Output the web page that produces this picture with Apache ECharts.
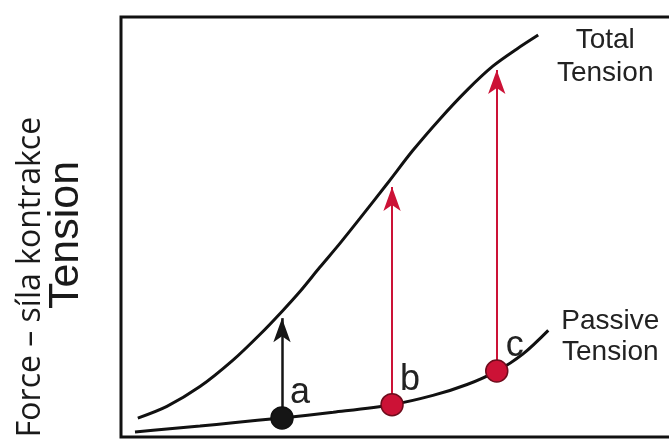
<!DOCTYPE html>
<html>
<head>
<meta charset="utf-8">
<script src="https://cdn.jsdelivr.net/npm/echarts@6/dist/echarts.min.js"></script>
<style>
  html, body { margin: 0; padding: 0; background: #fff; }
  #chart { width: 669px; height: 440px; }
</style>
</head>
<body>
<div id="chart"></div>
<script>
// length (arbitrary units, 0-100) vs tension (arbitrary units, 0-100)
const totalX = [3.0, 8.2, 14.1, 20.0, 24.8, 28.75, 32.0, 35.5, 39.1, 42.7, 47.7, 52.1, 57.0, 61.8, 66.4, 70.7, 74.5];
const totalY = [4.5, 7.3, 12.0, 18.3, 24.4, 29.9, 34.7, 40.4, 46.1, 52.1, 60.6, 68.2, 75.8, 82.6, 88.3, 92.4, 95.7];

const passiveX = [2.5, 8.2, 14.1, 20.0, 28.75, 37.9, 48.4, 55.7, 61.8, 67.1, 71.8, 76.3];
const passiveY = [1.2, 1.9, 2.6, 3.4, 4.55, 5.9, 7.7, 9.9, 12.5, 15.7, 19.8, 25.4];

// stimulated points on the passive curve and where each arrow reaches
const pointNames = ["a", "b", "c"];
const pointX = [28.75, 48.4, 67.1];
const pointPassive = [4.55, 7.7, 15.7];
const pointArrowTip = [28.3, 59.5, 87.4];
const pointColors = ["#151515", "#cc1236", "#cc1236"];
const pointBorders = ["#111", "#6e0c1c", "#6e0c1c"];

const zip = (xs, ys) => xs.map((x, i) => [x, ys[i]]);

const chart = echarts.init(document.getElementById("chart"));

chart.setOption({
  animation: false,
  grid: {
    left: 121,
    top: 17,
    width: 560,
    height: 420,
    outerBoundsMode: "none",
    containLabel: false,
    show: true,
    borderColor: "#111",
    borderWidth: 3,
    backgroundColor: "#fff"
  },
  xAxis: {
    type: "value", min: 0, max: 100,
    axisLine: { show: false }, axisTick: { show: false },
    axisLabel: { show: false }, splitLine: { show: false }
  },
  yAxis: {
    type: "value", min: 0, max: 100,
    axisLine: { show: false }, axisTick: { show: false },
    axisLabel: { show: false }, splitLine: { show: false }
  },
  graphic: [
    {
      type: "text",
      x: 31, y: 277,
      rotation: Math.PI / 2,
      style: {
        text: "Force – síla kontrakce",
        font: '32px "Open Sans"',
        fill: "#1a1a1a",
        align: "center",
        verticalAlign: "middle"
      }
    },
    {
      type: "text",
      x: 66, y: 235,
      rotation: Math.PI / 2,
      style: {
        text: "Tension",
        font: '43px "Liberation Sans"',
        fill: "#1a1a1a",
        align: "center",
        verticalAlign: "middle"
      }
    }
  ],
  series: [
    {
      name: "Total Tension",
      type: "line",
      data: zip(totalX, totalY),
      smooth: 0.3,
      symbol: "none",
      lineStyle: { color: "#111", width: 3 },
      endLabel: {
        show: true,
        formatter: "Total\nTension",
        align: "center",
        offset: [59, 22],
        lineHeight: 33,
        fontFamily: "Liberation Sans",
        fontSize: 28,
        color: "#222"
      }
    },
    {
      name: "Passive Tension",
      type: "line",
      data: zip(passiveX, passiveY),
      smooth: 0.3,
      symbol: "none",
      lineStyle: { color: "#111", width: 3 },
      endLabel: {
        show: true,
        formatter: "Passive\nTension",
        align: "center",
        offset: [54, 6],
        lineHeight: 31,
        fontFamily: "Liberation Sans",
        fontSize: 28,
        color: "#222"
      }
    },
    {
      type: "lines",
      coordinateSystem: "cartesian2d",
      symbol: ["none", "arrow"],
      symbolSize: [0, [13, 24]],
      z: 3,
      data: pointNames.map((n, i) => ({
        coords: [[pointX[i], pointPassive[i]], [pointX[i], pointArrowTip[i]]],
        lineStyle: { color: pointColors[i], width: i === 0 ? 2.5 : 2, opacity: 1 }
      }))
    },
    {
      type: "scatter",
      symbolSize: 22,
      z: 4,
      data: pointNames.map((n, i) => ({
        name: n,
        value: [pointX[i], pointPassive[i]],
        itemStyle: { color: pointColors[i], borderColor: pointBorders[i], borderWidth: 1.5, opacity: 1 }
      })),
      label: {
        show: true,
        formatter: "{b}",
        position: "inside",
        offset: [18, -25],
        fontFamily: "Liberation Sans",
        fontSize: 36,
        color: "#222"
      }
    }
  ]
});
</script>
</body>
</html>
